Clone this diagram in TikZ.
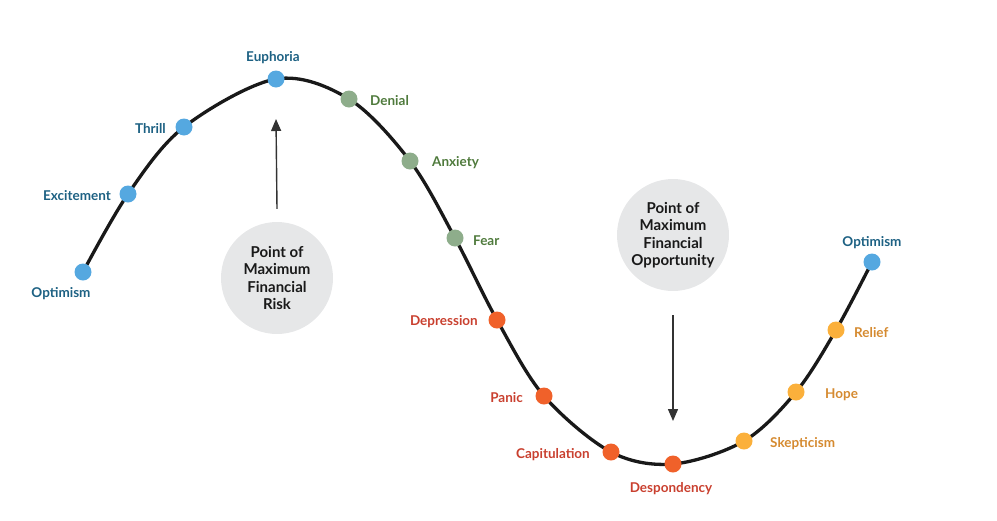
\documentclass[tikz,border=0pt]{standalone}
\usepackage{fontspec}
\setmainfont{Lato}
\usetikzlibrary{arrows.meta}
\definecolor{bdot}{HTML}{55A8E0}
\definecolor{btxt}{HTML}{1D6183}
\definecolor{gdot}{HTML}{8EAD8B}
\definecolor{gtxt}{HTML}{4F7A3C}
\definecolor{odot}{HTML}{F0612A}
\definecolor{otxt}{HTML}{C9402F}
\definecolor{ydot}{HTML}{FBB03B}
\definecolor{ytxt}{HTML}{D58A30}
\definecolor{cgray}{HTML}{E6E7E8}
\tikzset{
  dot/.style={circle,inner sep=0pt,minimum size=17pt},
  bd/.style={dot,fill=bdot}, gd/.style={dot,fill=gdot},
  od/.style={dot,fill=odot}, yd/.style={dot,fill=ydot},
  lbl/.style={font=\fontsize{13.5}{16}\selectfont\bfseries,inner sep=0pt,yshift=-1.5pt},
  bl/.style={lbl,text=btxt}, gl/.style={lbl,text=gtxt},
  ol/.style={lbl,text=otxt}, yl/.style={lbl,text=ytxt},
  bubble/.style={circle,fill=cgray,minimum size=112pt,inner sep=0pt,align=center,
    font=\fontsize{15}{17.5}\selectfont\bfseries,text=black!90},
  curve/.style={line width=3.3pt,black!90},
  pointer/.style={line width=1.4pt,black!80,-{Triangle[length=12pt,width=10pt]}}
}
\begin{document}
\begin{tikzpicture}[x=1pt,y=-1pt]
\useasboundingbox (0,0) rectangle (997,520);
% curve points
\coordinate (p1) at (83,272);
\coordinate (p2) at (128,194);
\coordinate (p3) at (184,127);
\coordinate (p4) at (276,79);
\coordinate (p5) at (349,99);
\coordinate (p6) at (410,161);
\coordinate (p7) at (455,238);
\coordinate (p8) at (497,320);
\coordinate (p9) at (544,396);
\coordinate (p10) at (611,452);
\coordinate (p11) at (673,464);
\coordinate (p12) at (744,441);
\coordinate (p13) at (796,392);
\coordinate (p14) at (836,330);
\coordinate (p15) at (872,262);
\draw[curve] plot[smooth,tension=0.55] coordinates {(p1) (p2) (p3) (p4) (p5) (p6) (p7) (p8) (p9) (p10) (p11) (p12) (p13) (p14) (p15)};
% dots
\node[bd] (optL) at (p1) {};
\node[bd] (exc) at (p2) {};
\node[bd] (thr) at (p3) {};
\node[bd] (eup) at (p4) {};
\node[gd] (den) at (p5) {};
\node[gd] (anx) at (p6) {};
\node[gd] (fear) at (p7) {};
\node[od] (dep) at (p8) {};
\node[od] (pan) at (p9) {};
\node[od] (cap) at (p10) {};
\node[od] (desp) at (p11) {};
\node[yd] (ske) at (p12) {};
\node[yd] (hope) at (p13) {};
\node[yd] (rel) at (p14) {};
\node[bd] (optR) at (p15) {};
% labels
\node[bl] (tOptL) at (61,292) {Optimism};
\node[bl,anchor=east] (tExc) at (111,194) {Excitement};
\node[bl,anchor=east] (tThr) at (166,127) {Thrill};
\node[bl] (tEup) at (273,56) {Euphoria};
\node[gl,anchor=west] (tDen) at (370,99) {Denial};
\node[gl,anchor=west] (tAnx) at (432,161) {Anxiety};
\node[gl,anchor=west] (tFear) at (473,239) {Fear};
\node[ol,anchor=east] (tDep) at (478,320) {Depression};
\node[ol,anchor=east] (tPan) at (523,396) {Panic};
\node[ol,anchor=east] (tCap) at (590,453) {Capitulation};
\node[ol] (tDesp) at (671,487) {Despondency};
\node[yl,anchor=west] (tSke) at (770,442) {Skepticism};
\node[yl,anchor=west] (tHope) at (825,393) {Hope};
\node[yl,anchor=west] (tRel) at (854,331) {Relief};
\node[bl] (tOptR) at (872,241) {Optimism};
% bubbles
\node[bubble] (risk) at (277,278) {Point of\\Maximum\\Financial\\Risk};
\node[bubble] (opp) at (673,235) {Point of\\Maximum\\Financial\\Opportunity};
\coordinate (riskTip) at (276,119);
\coordinate (oppTip) at (673,421);
\draw[pointer] ([yshift=13pt]risk.north) -- (riskTip);
\draw[pointer] ([yshift=-24pt]opp.south) -- (oppTip);
\end{tikzpicture}
\end{document}
